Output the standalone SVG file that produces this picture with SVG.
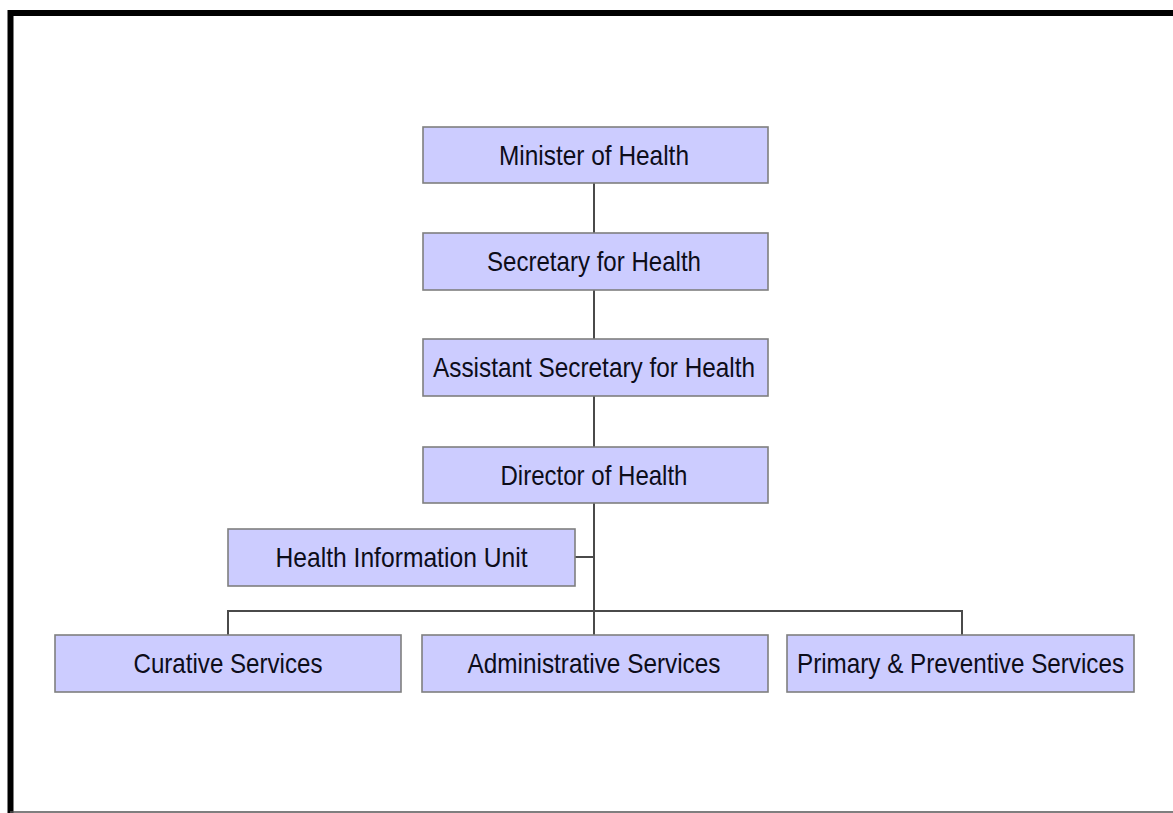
<svg xmlns="http://www.w3.org/2000/svg" width="1173" height="813" viewBox="0 0 1173 813">
<style>
.box{fill:#ccccff;stroke:#7f7f7f;stroke-width:1.6}
.lbl{font-family:"Liberation Sans",Arial,sans-serif;font-size:28px;fill:#0d0d1a;text-anchor:middle}
.conn{stroke:#4a4a4a;stroke-width:2;fill:none}
</style>
<rect width="1173" height="813" fill="#ffffff"/>
<g id="frame">
<path d="M10.5 813 V13 H1173" fill="none" stroke="#000" stroke-width="6"/>
<line x1="10" y1="812" x2="1173" y2="812" stroke="#555" stroke-width="1.6"/>
</g>
<g id="connectors" class="conn">
<line x1="594" y1="183" x2="594" y2="233"/>
<line x1="594" y1="290" x2="594" y2="339"/>
<line x1="594" y1="396" x2="594" y2="447"/>
<line x1="594" y1="503" x2="594" y2="635"/>
<line x1="575" y1="557" x2="594" y2="557"/>
<polyline points="228,635 228,611 962,611 962,635"/>
</g>
<g id="minister"><rect class="box" x="423" y="127" width="345" height="56"/><text class="lbl" x="594" y="165" textLength="190" lengthAdjust="spacingAndGlyphs">Minister of Health</text></g>
<g id="secretary"><rect class="box" x="423" y="233" width="345" height="57"/><text class="lbl" x="594" y="271" textLength="214" lengthAdjust="spacingAndGlyphs">Secretary for Health</text></g>
<g id="assistant"><rect class="box" x="423" y="339" width="345" height="57"/><text class="lbl" x="594" y="377" textLength="322" lengthAdjust="spacingAndGlyphs">Assistant Secretary for Health</text></g>
<g id="director"><rect class="box" x="423" y="447" width="345" height="56"/><text class="lbl" x="594" y="485" textLength="187" lengthAdjust="spacingAndGlyphs">Director of Health</text></g>
<g id="hiu"><rect class="box" x="228" y="529" width="347" height="57"/><text class="lbl" x="401.5" y="567" textLength="252" lengthAdjust="spacingAndGlyphs">Health Information Unit</text></g>
<g id="curative"><rect class="box" x="55" y="635" width="346" height="57"/><text class="lbl" x="228" y="673" textLength="189" lengthAdjust="spacingAndGlyphs">Curative Services</text></g>
<g id="administrative"><rect class="box" x="422" y="635" width="346" height="57"/><text class="lbl" x="594" y="673" textLength="253" lengthAdjust="spacingAndGlyphs">Administrative Services</text></g>
<g id="primary"><rect class="box" x="787" y="635" width="347" height="57"/><text class="lbl" x="960.5" y="673" textLength="327" lengthAdjust="spacingAndGlyphs">Primary &amp; Preventive Services</text></g>
</svg>
